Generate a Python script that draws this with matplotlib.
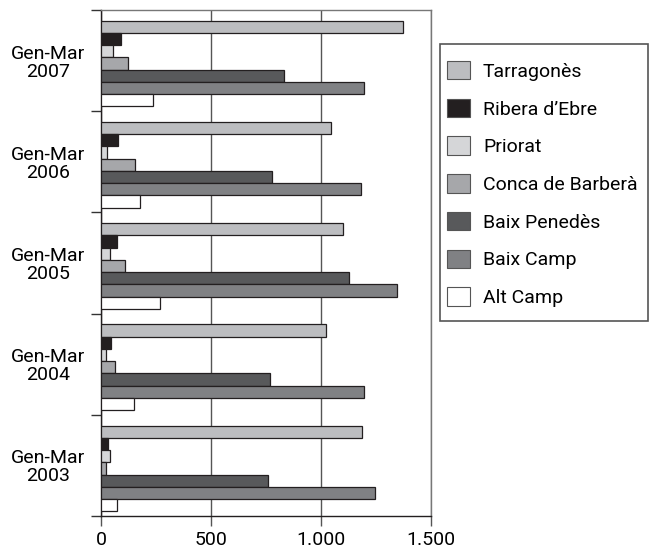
import matplotlib
matplotlib.use('Agg')
import matplotlib.pyplot as plt
from matplotlib.patches import Rectangle
import numpy as np

plt.rcParams['font.family'] = ['Roboto', 'DejaVu Sans']

periods = ['Gen-Mar\n2003', 'Gen-Mar\n2004', 'Gen-Mar\n2005', 'Gen-Mar\n2006', 'Gen-Mar\n2007']

comarques = ['Tarragonès', 'Ribera d\u2019Ebre', 'Priorat', 'Conca de Barberà',
             'Baix Penedès', 'Baix Camp', 'Alt Camp']

# values per comarca, periods 2003..2007
tarragones = [1186, 1022, 1098, 1045, 1374]
ribera = [34, 46, 73, 77, 89]
priorat = [42, 25, 40, 27, 56]
conca = [24, 64, 108, 153, 121]
baix_penedes = [761, 767, 1128, 776, 833]
baix_camp = [1246, 1195, 1345, 1183, 1195]
alt_camp = [75, 152, 269, 176, 235]

series = [tarragones, ribera, priorat, conca, baix_penedes, baix_camp, alt_camp]
colors = ['#bcbdc0', '#231f20', '#d5d6d8', '#a6a7aa', '#58595b', '#808184', '#ffffff']

W, H = 650, 552
fig = plt.figure(figsize=(W / 100, H / 100), dpi=100)
ax = fig.add_axes([101 / W, 1 - 516 / H, 330 / W, 506 / H])

bar_h = 0.121
top_off = 0.106
base = np.arange(len(periods))
for k, (vals, col, name) in enumerate(zip(series, colors, comarques)):
    y = base + 1 - top_off - bar_h / 2 - k * bar_h
    ax.barh(y, vals, height=bar_h, color=col, edgecolor='#231f20',
            linewidth=0.9, label=name, zorder=3)

ax.set_xlim(0, 1500)
ax.set_ylim(0, len(periods))
ax.set_xticks([0, 500, 1000, 1500])
ax.set_xticklabels(['0', '500', '1.000', '1.500'], fontsize=14)
ax.grid(axis='x', color='#555555', linewidth=1.0, zorder=0)

ax.set_yticks(np.arange(len(periods) + 1))
ax.set_yticklabels([])
ax.set_yticks(base + 0.5, minor=True)
ax.set_yticklabels(periods, minor=True, fontsize=14, ha='center', linespacing=1.0)
ax.tick_params(axis='y', which='minor', length=0, pad=38)
ax.tick_params(axis='y', which='major', length=7, width=1, color='#333333')
ax.tick_params(axis='x', length=7, width=1, color='#555555', pad=4)

for s in ['left', 'bottom']:
    ax.spines[s].set_color('#231f20')
    ax.spines[s].set_linewidth(1)
for s in ['top', 'right']:
    ax.spines[s].set_color('#777777')
    ax.spines[s].set_linewidth(1)

# legend box drawn separately so the padding can match
fig.patches.append(Rectangle((440 / W, 1 - 321 / H), 208 / W, 277 / H,
                             transform=fig.transFigure, fill=False,
                             edgecolor='#555555', linewidth=1.2))
leg = ax.legend(loc='upper left', bbox_to_anchor=(447 / W, 1 - 61 / H),
                bbox_transform=fig.transFigure, fontsize=14, frameon=False,
                borderaxespad=0, borderpad=0, handlelength=1.18, handleheight=1.08,
                handletextpad=0.67, labelspacing=0.92)
for p in leg.get_patches():
    p.set_edgecolor('#555555')
    p.set_linewidth(0.8)

fig.savefig('out.png', dpi=100, facecolor='white')
